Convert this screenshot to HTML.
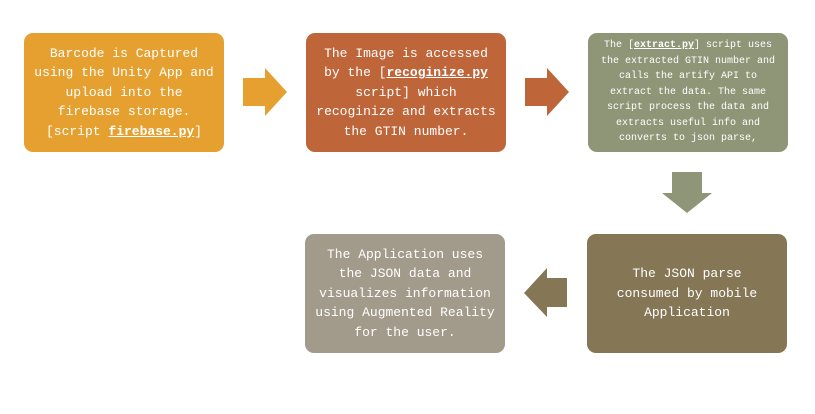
<!DOCTYPE html>
<html><head><style>
body{margin:0;width:815px;height:414px;background:#fff;position:relative;overflow:hidden;font-family:"Liberation Mono","Noto Serif CJK SC",monospace;color:#fff}
.b{position:absolute;width:200px;height:119px;border-radius:9px;display:flex;align-items:center;justify-content:center;text-align:center;box-sizing:border-box}
.b>div{white-space:nowrap}
.t{font-size:13px;line-height:19.5px}
.s{font-size:10px;line-height:15.5px}
u{font-weight:bold}
svg{position:absolute;left:0;top:0}
</style></head><body>
<svg width="815" height="414">
<polygon points="243,78 265,78 265,68 287,92 265,116 265,106 243,106" fill="#E5A030"/>
<polygon points="525,78 547,78 547,68 569,92 547,116 547,106 525,106" fill="#BF653A"/>
<polygon points="672,172 702,172 702,193 712,193 687,213 662,193 672,193" fill="#8E9677"/>
<polygon points="567,278 547,278 547,268 524,293 547,317 547,307 567,307" fill="#857655"/>
</svg>
<div class="b t" style="left:24px;top:33px;background:#E5A030"><div>Barcode is Captured<br>using the Unity App and<br>upload into the<br>firebase storage.<br>[script <u>firebase.py</u>]</div></div>
<div class="b t" style="left:306px;top:33px;background:#BF653A"><div>The Image is accessed<br>by the [<u>recoginize.py</u><br>script] which<br>recoginize and extracts<br>the GTIN number.</div></div>
<div class="b s" style="left:588px;top:33px;background:#8E9677"><div>The [<u>extract.py</u>] script uses<br>the extracted GTIN number and<br>calls the artify API to<br>extract the data. The same<br>script process the data and<br>extracts useful info and<br>converts to json parse,</div></div>
<div class="b t" style="left:587px;top:234px;background:#857655"><div>The JSON parse<br>consumed by mobile<br>Application</div></div>
<div class="b t" style="left:305px;top:234px;background:#A29A8A"><div>The Application uses<br>the JSON data and<br>visualizes information<br>using Augmented Reality<br>for the user.</div></div>
</body></html>
